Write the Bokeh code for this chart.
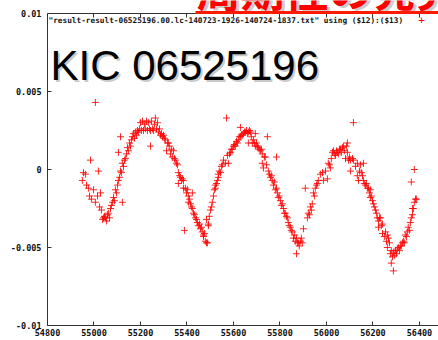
from bokeh.plotting import figure
from bokeh.models import Label, LinearAxis, FixedTicker, Range1d, BoxAnnotation
from bokeh.embed import file_html
from bokeh.resources import INLINE

# time (BJD-like) and relative flux values
time = [54950, 54955, 54963, 54968, 54976, 54981, 54985, 54989, 54998, 55006, 55006, 55015, 55019, 55024,
        55028, 55032, 55037, 55041, 55045, 55049, 55054, 55058, 55062, 55067, 55071, 55075, 55080, 55084,
        55088, 55092, 55097, 55101, 55105, 55105, 55110, 55114, 55114, 55118, 55122, 55122, 55127, 55131,
        55135, 55140, 55144, 55148, 55153, 55157, 55161, 55165, 55170, 55174, 55178, 55183, 55187, 55191,
        55196, 55200, 55204, 55209, 55213, 55217, 55221, 55226, 55230, 55234, 55239, 55243, 55243, 55247,
        55252, 55256, 55260, 55264, 55269, 55273, 55277, 55282, 55286, 55290, 55295, 55299, 55303, 55307,
        55312, 55316, 55320, 55324, 55329, 55333, 55337, 55342, 55346, 55350, 55355, 55359, 55363, 55363,
        55368, 55372, 55376, 55380, 55385, 55385, 55389, 55393, 55398, 55402, 55406, 55406, 55411, 55415,
        55419, 55423, 55423, 55428, 55432, 55436, 55441, 55445, 55449, 55454, 55458, 55462, 55466, 55471,
        55471, 55475, 55479, 55484, 55484, 55488, 55492, 55492, 55496, 55501, 55505, 55509, 55514, 55518,
        55522, 55522, 55527, 55531, 55535, 55535, 55539, 55544, 55548, 55552, 55557, 55565, 55570, 55574,
        55578, 55583, 55587, 55591, 55595, 55600, 55604, 55608, 55613, 55617, 55621, 55625, 55630, 55630,
        55634, 55638, 55643, 55647, 55651, 55656, 55660, 55664, 55664, 55669, 55673, 55677, 55681, 55686,
        55690, 55694, 55694, 55699, 55703, 55707, 55711, 55716, 55720, 55724, 55724, 55729, 55733, 55737,
        55742, 55746, 55750, 55755, 55759, 55763, 55767, 55772, 55776, 55780, 55785, 55785, 55789, 55793,
        55797, 55802, 55806, 55810, 55815, 55819, 55823, 55828, 55832, 55836, 55840, 55845, 55849, 55853,
        55858, 55862, 55866, 55871, 55871, 55875, 55879, 55883, 55888, 55892, 55896, 55901, 55909, 55918,
        55922, 55927, 55931, 55935, 55939, 55944, 55948, 55952, 55957, 55961, 55965, 55974, 55983, 55987,
        55996, 56004, 56008, 56013, 56017, 56021, 56026, 56030, 56034, 56039, 56043, 56047, 56051, 56056,
        56060, 56064, 56069, 56073, 56077, 56082, 56086, 56090, 56090, 56095, 56099, 56103, 56103, 56112,
        56116, 56116, 56125, 56133, 56133, 56138, 56142, 56146, 56150, 56155, 56159, 56159, 56163, 56168,
        56172, 56176, 56181, 56185, 56189, 56189, 56193, 56198, 56202, 56206, 56211, 56215, 56219, 56224,
        56224, 56228, 56232, 56236, 56241, 56241, 56249, 56254, 56258, 56262, 56262, 56267, 56271, 56275,
        56279, 56279, 56284, 56288, 56288, 56292, 56297, 56301, 56305, 56309, 56314, 56318, 56322, 56327,
        56331, 56335, 56339, 56344, 56348, 56352, 56357, 56361, 56365, 56370, 56370, 56374, 56378, 56383,
        56387, 56365, 56378]
flux = [-0.0007, -0.0002, -0.0003, -0.0010, -0.0012, -0.0017, 0.0006, -0.0019, -0.0013, 0.0043, -0.0021,
        -0.0017, -0.0001, -0.0024, -0.0015, -0.0026, -0.0032, -0.0031, -0.0030, -0.0031, -0.0033, -0.0029,
        -0.0028, -0.0031, -0.0025, -0.0023, -0.0021, -0.0018, -0.0020, -0.0013, -0.0015, -0.0010, 0.0011,
        -0.0007, -0.0005, -0.0001, 0.0021, -0.0002, 0.0004, -0.0021, 0.0002, 0.0006, 0.0007, 0.0010, 0.0014,
        0.0012, 0.0017, 0.0015, 0.0019, 0.0021, 0.0023, 0.0020, 0.0024, 0.0022, 0.0025, 0.0024, 0.0026,
        0.0030, 0.0025, 0.0031, 0.0025, 0.0029, 0.0026, 0.0031, 0.0025, 0.0030, 0.0026, 0.0025, 0.0015,
        0.0031, 0.0026, 0.0025, 0.0029, 0.0033, 0.0026, 0.0030, 0.0024, 0.0026, 0.0022, 0.0023, 0.0021,
        0.0022, 0.0020, 0.0019, 0.0012, 0.0017, 0.0017, 0.0015, 0.0010, 0.0013, 0.0008, 0.0012, 0.0007,
        0.0006, 0.0004, 0.0003, -0.0002, -0.0009, -0.0004, -0.0005, -0.0007, -0.0006, -0.0007, -0.0012,
        -0.0039, -0.0012, -0.0015, -0.0013, -0.0017, -0.0021, -0.0019, -0.0022, -0.0024, -0.0015, -0.0025,
        -0.0028, -0.0029, -0.0031, -0.0032, -0.0034, -0.0036, -0.0035, -0.0038, -0.0037, -0.0040, -0.0043,
        -0.0042, -0.0041, -0.0046, -0.0047, -0.0032, -0.0047, -0.0035, -0.0036, -0.0030, -0.0026, -0.0024,
        -0.0021, -0.0017, -0.0013, -0.0010, -0.0012, -0.0009, -0.0007, -0.0005, -0.0003, -0.0001, -0.0002,
        0.0002, 0.0003, 0.0006, 0.0004, 0.0033, 0.0009, 0.0004, 0.0010, 0.0011, 0.0013, 0.0013, 0.0015,
        0.0016, 0.0015, 0.0018, 0.0017, 0.0019, 0.0021, 0.0021, 0.0027, 0.0022, 0.0022, 0.0023, 0.0024,
        0.0024, 0.0025, 0.0023, 0.0017, 0.0024, 0.0025, 0.0024, 0.0021, 0.0017, 0.0019, 0.0017, 0.0023,
        0.0015, 0.0017, 0.0015, 0.0014, 0.0013, 0.0012, 0.0013, 0.0010, 0.0004, 0.0001, 0.0008, 0.0008,
        0.0003, 0.0021, -0.0001, -0.0003, -0.0005, -0.0004, -0.0007, -0.0010, -0.0008, -0.0013, 0.0008,
        -0.0012, -0.0015, -0.0018, -0.0017, -0.0020, -0.0023, -0.0022, -0.0025, -0.0028, -0.0028, -0.0030,
        -0.0031, -0.0034, -0.0036, -0.0037, -0.0039, -0.0040, -0.0044, -0.0042, -0.0046, -0.0054, -0.0044,
        -0.0047, -0.0047, -0.0049, -0.0046, -0.0044, -0.0047, -0.0038, -0.0012, -0.0031, -0.0028, -0.0029,
        -0.0024, -0.0026, -0.0022, -0.0015, -0.0017, -0.0012, -0.0010, -0.0009, -0.0007, -0.0003, -0.0002,
        -0.0007, -0.0001, -0.0006, 0.0004, 0.0003, 0.0001, 0.0007, 0.0011, 0.0012, 0.0010, 0.0009, 0.0012,
        0.0011, 0.0010, 0.0013, 0.0013, 0.0011, 0.0014, 0.0015, 0.0012, 0.0007, 0.0015, 0.0017, 0.0011,
        0.0006, 0.0008, 0.0006, -0.0001, 0.0007, 0.0030, 0.0006, 0.0002, 0.0004, -0.0004, -0.0007, -0.0001,
        0.0003, -0.0002, -0.0004, 0.0004, -0.0007, -0.0009, -0.0010, -0.0009, -0.0012, -0.0012, -0.0015,
        -0.0013, -0.0018, -0.0017, -0.0020, -0.0022, -0.0024, -0.0026, -0.0028, -0.0031, -0.0033, -0.0037,
        -0.0031, -0.0031, -0.0036, -0.0035, -0.0041, -0.0043, -0.0040, -0.0046, -0.0042, -0.0050, -0.0044,
        -0.0047, -0.0054, -0.0060, -0.0052, -0.0056, -0.0065, -0.0053, -0.0055, -0.0052, -0.0054, -0.0051,
        -0.0050, -0.0052, -0.0049, -0.0049, -0.0047, -0.0046, -0.0047, -0.0042, -0.0043, -0.0040, -0.0037,
        -0.0039, -0.0034, -0.0031, -0.0029, -0.0025, -0.0025, -0.0021, -0.0019, -0.0019, -0.0008, 0.0000]

x_ticks = [54800, 55000, 55200, 55400, 55600, 55800, 56000, 56200, 56400]
y_ticks = [-0.01, -0.005, 0, 0.005, 0.01]
y_tick_labels = {-0.01: "-0.01", -0.005: "-0.005", 0: "0", 0.005: "0.005", 0.01: "0.01"}
y_min, y_max = -0.01, 0.01

title_text = "KIC 06525196"
banner_text = "周期性の発見"
legend_text = '"result-result-06525196.00.lc-140723-1926-140724-1837.txt" using ($12):($13)'

TICK_FONT = "DejaVu Sans Mono"
AX_COLOR = "#333333"

# the frame reaches the top of the canvas so that the header texts above the
# top border are not clipped; the axes are bounded to the plotted range
TOP = y_max + 0.000833
p = figure(width=438, height=340, output_backend="svg", toolbar_location=None,
           x_range=Range1d(54800, 56482), y_range=Range1d(y_min, TOP),
           min_border_left=47, min_border_right=0, min_border_top=0, min_border_bottom=15,
           x_axis_location=None, y_axis_location=None)
p.background_fill_color = "white"
p.border_fill_color = "white"
p.outline_line_color = None
p.xgrid.visible = False
p.ygrid.visible = False

def style_axis(ax, show_labels=True):
    ax.axis_line_color = AX_COLOR
    ax.axis_line_width = 1
    ax.major_tick_line_color = AX_COLOR
    ax.major_tick_in = 4
    ax.major_tick_out = 0
    ax.minor_tick_line_color = None
    ax.major_label_text_font = TICK_FONT
    ax.major_label_text_font_style = "bold"
    ax.major_label_text_color = "#111111"
    ax.major_label_text_font_size = "8.5px" if show_labels else "0px"
    if not show_labels:
        ax.major_label_standoff = 0

xb = LinearAxis(ticker=FixedTicker(ticks=x_ticks))
style_axis(xb)
xb.major_label_standoff = 3
p.add_layout(xb, "below")

# top border with mirrored ticks
xt = LinearAxis(ticker=FixedTicker(ticks=x_ticks), fixed_location=y_max)
style_axis(xt, show_labels=False)
xt.major_label_overrides = {t: "" for t in x_ticks}
p.add_layout(xt, "above")

yl = LinearAxis(ticker=FixedTicker(ticks=y_ticks), bounds=(y_min, y_max))
style_axis(yl)
yl.major_label_standoff = 6
yl.major_label_overrides = y_tick_labels
p.add_layout(yl, "left")

p.scatter(time, flux, marker="cross", size=7, line_color="#ff0000", line_width=1, line_alpha=0.85)

PX = 4.3017      # data units per pixel along x
PY = 1 / 15600   # data units per pixel along y

def ax_x(px):
    return 54800 + (px - 47) * PX

def ax_y(py):
    return TOP - py * PY

# title with soft shadow
p.add_layout(Label(x=ax_x(52), y=ax_y(67), text=title_text,
                   text_font="Liberation Sans", text_font_size="42px", text_color="#888888",
                   text_alpha=0.45, text_baseline="middle"))
p.add_layout(Label(x=ax_x(50), y=ax_y(64.5), text=title_text,
                   text_font="Liberation Sans", text_font_size="42px", text_color="black",
                   text_baseline="middle"))

# red banner text (mostly cut off at the top) with underline
p.add_layout(Label(x=ax_x(199), y=ax_y(-10), text=banner_text,
                   text_font="Noto Sans CJK JP", text_font_style="bold", text_font_size="44px",
                   text_color="#999999", text_alpha=0.5, text_baseline="middle"))
p.add_layout(Label(x=ax_x(196), y=ax_y(-12.5), text=banner_text,
                   text_font="Noto Sans CJK JP", text_font_style="bold", text_font_size="44px",
                   text_color="#ff0000", text_baseline="middle"))
p.add_layout(BoxAnnotation(left=ax_x(195), top=ax_y(10.5), bottom=ax_y(13.5),
                           fill_color="#ff1a00", fill_alpha=1, line_color=None))

# key
p.add_layout(Label(x=ax_x(48), y=ax_y(20.3), text=legend_text,
                   text_font=TICK_FONT, text_font_style="bold", text_font_size="7.75px",
                   text_color="#111111", text_align="left", text_baseline="middle"))
p.add_layout(Label(x=ax_x(421), y=ax_y(19), text="+",
                   text_font=TICK_FONT, text_font_size="11px", text_color="#ff0000",
                   text_align="center", text_baseline="middle"))

open("out.html", "w").write(file_html(p, INLINE))
